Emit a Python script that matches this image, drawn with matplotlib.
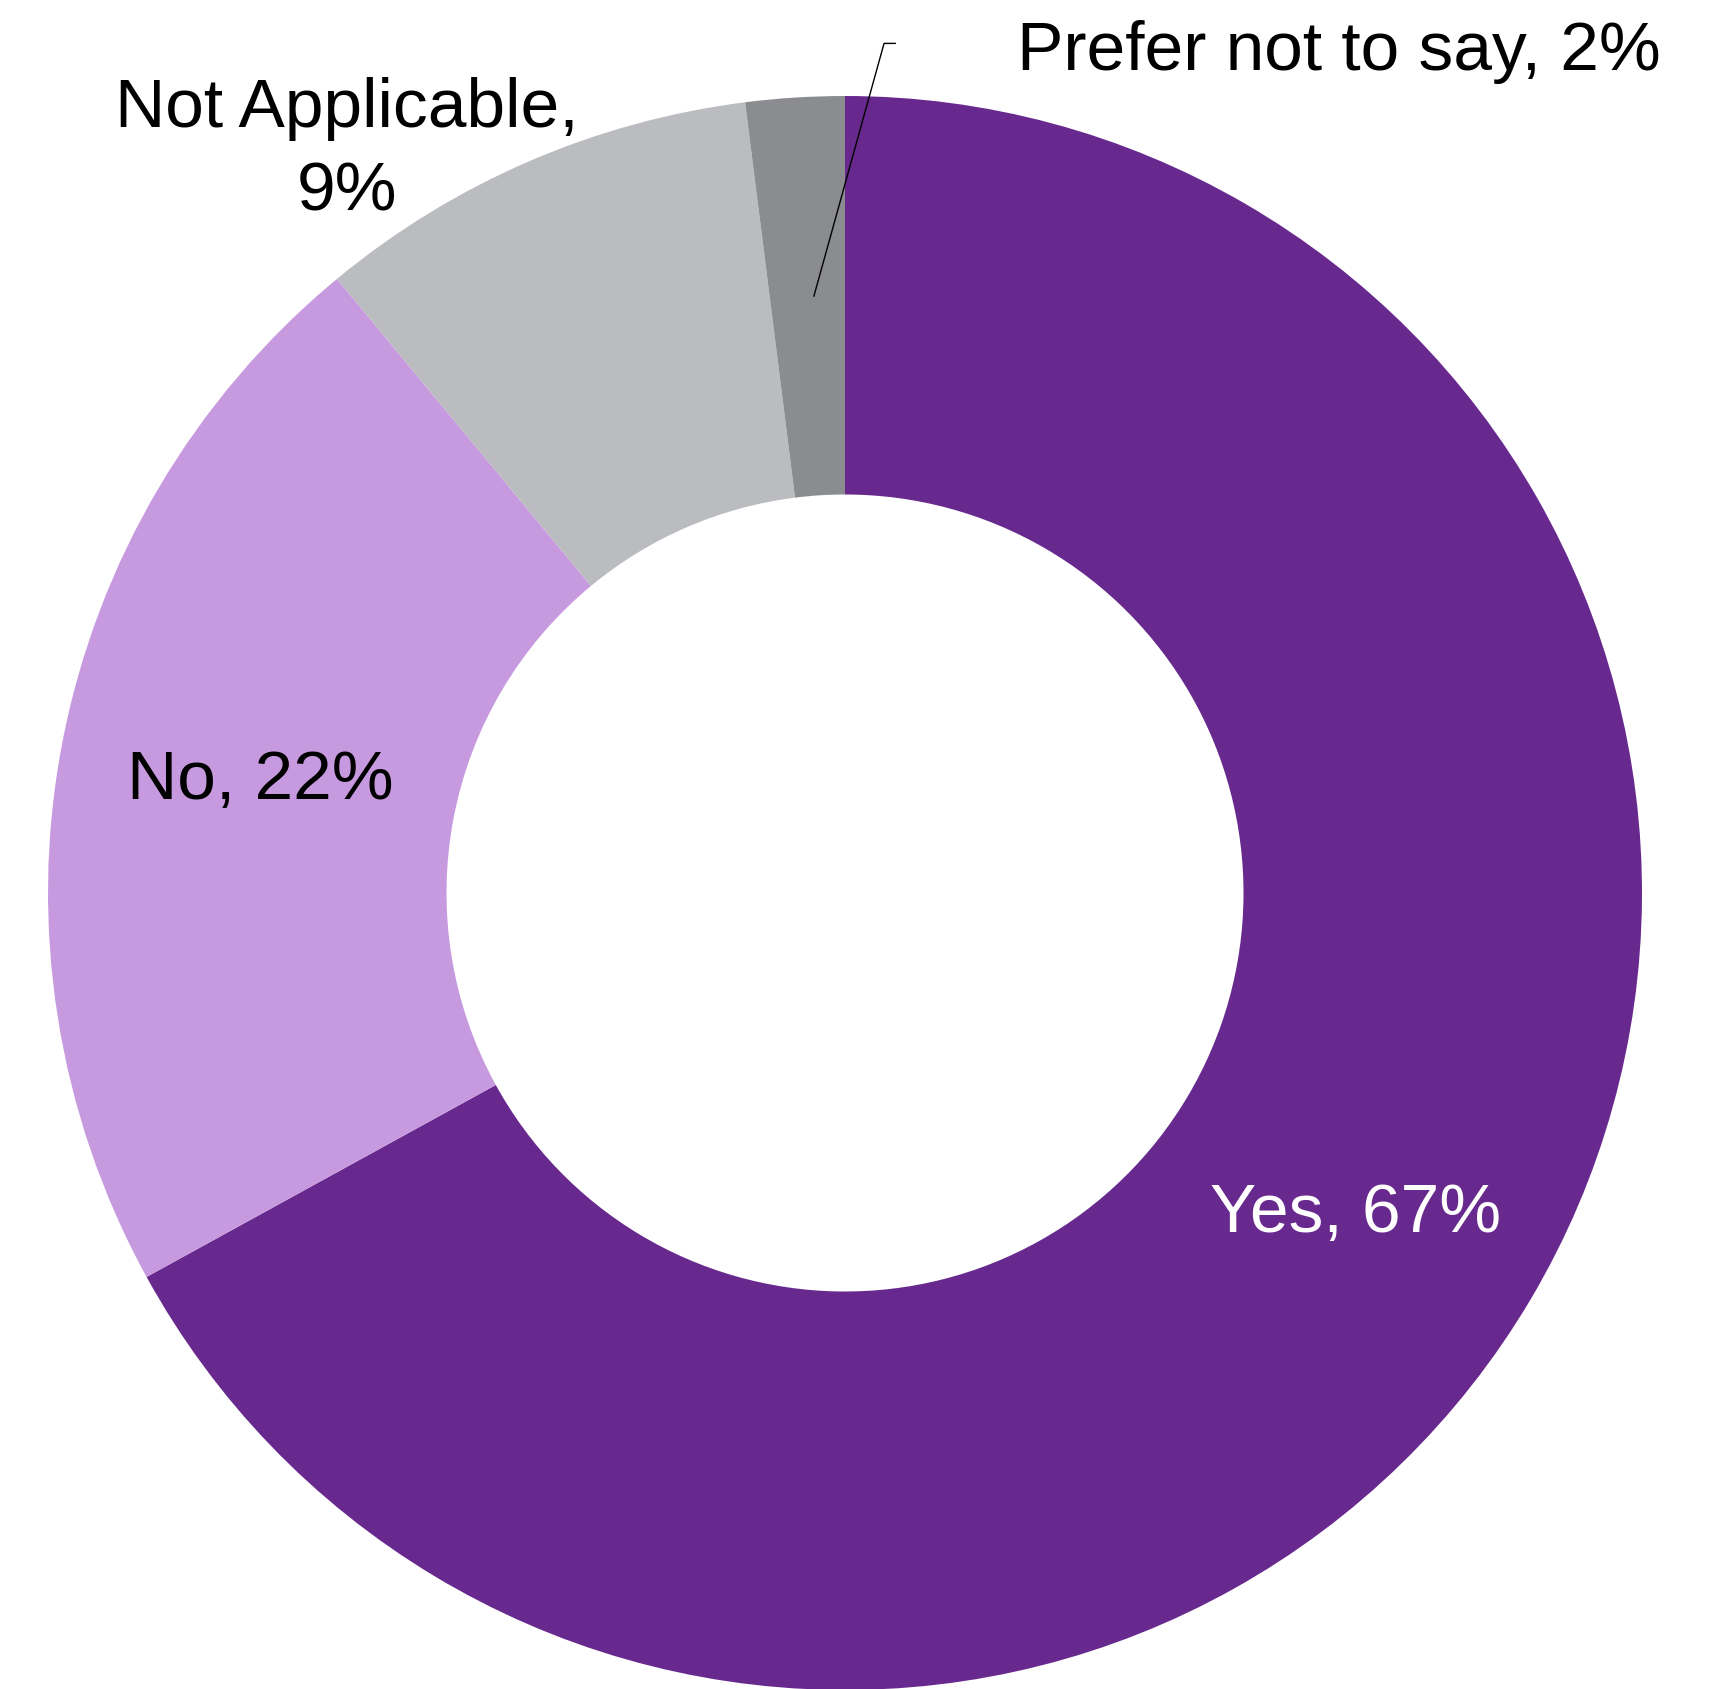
import matplotlib
matplotlib.use("Agg")
import matplotlib.pyplot as plt

plt.rcParams['font.family'] = ['Liberation Sans', 'DejaVu Sans']

# survey answers, clockwise from 12 o'clock
labels = ['Yes', 'No', 'Not Applicable', 'Prefer not to say']
shares = [67, 22, 9, 2]
colors = ['#68298F', '#C79AE0', '#BBBCBF', '#8B8C90']

W, H = 1716, 1690
cx, cy, R = 845, 894, 797   # donut centre and outer radius in pixels

fig = plt.figure(figsize=(W / 100, H / 100), dpi=100)
ax = fig.add_axes([0, 0, 1, 1])
ax.pie(shares, colors=colors, startangle=90, counterclock=False,
       radius=1, wedgeprops=dict(width=0.5, linewidth=0))
ax.set_xlim(-cx / R, (W - cx) / R)
ax.set_ylim(-(H - cy) / R, cy / R)
ax.set_aspect('equal')
ax.axis('off')

fs = 50
ax.text(0.640, -0.424, f'{labels[0]}, {shares[0]}%', color='white',
        fontsize=fs, ha='center', va='baseline')
ax.text(-0.734, 0.119, f'{labels[1]}, {shares[1]}%', color='black',
        fontsize=fs, ha='center', va='baseline')
# two-line label, anchored on the baseline of its last line
ax.text(-0.625, 0.858, f'{labels[2]},\n{shares[2]}%', color='black',
        fontsize=fs, ha='center', va='baseline', multialignment='center',
        linespacing=1.375)
ax.text(0.620, 1.034, f'{labels[3]}, {shares[3]}%', color='black',
        fontsize=fs, ha='center', va='baseline')

# leader line for the small slice
ax.plot([-0.039, 0.049, 0.063], [0.749, 1.066, 1.066],
        color='black', linewidth=1, clip_on=False)

fig.savefig('out.png', dpi=100, facecolor='white')
